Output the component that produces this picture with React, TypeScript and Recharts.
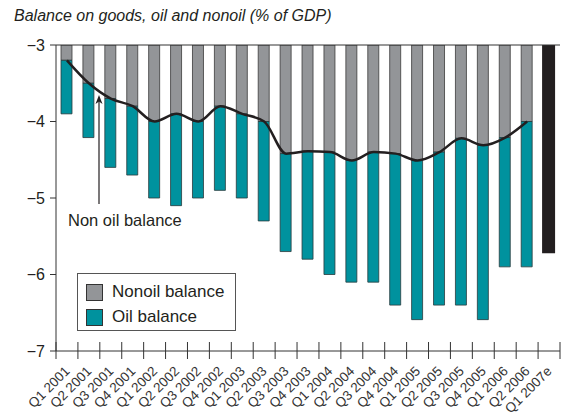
import React from 'react';
import { Bar, BarChart, Line, ReferenceLine, XAxis, YAxis } from 'recharts';

const quarters = [
  'Q1 2001', 'Q2 2001', 'Q3 2001', 'Q4 2001',
  'Q1 2002', 'Q2 2002', 'Q3 2002', 'Q4 2002',
  'Q1 2003', 'Q2 2003', 'Q3 2003', 'Q4 2003',
  'Q1 2004', 'Q2 2004', 'Q3 2004', 'Q4 2004',
  'Q1 2005', 'Q2 2005', 'Q3 2005', 'Q4 2005',
  'Q1 2006', 'Q2 2006', 'Q1 2007e',
];

// nonoil balance (where the gray part ends / the black line)
const nonoil = [
  -3.2, -3.5, -3.7, -3.8,
  -4.0, -3.9, -4.0, -3.8,
  -3.9, -4.0, -4.42, -4.39,
  -4.4, -4.51, -4.4, -4.42,
  -4.51, -4.4, -4.22, -4.31,
  -4.21, -4.0, null,
];

// goods balance (bottom of the teal part)
const goods = [
  -3.9, -4.21, -4.6, -4.7,
  -5.0, -5.1, -5.0, -4.9,
  -5.0, -5.3, -5.7, -5.8,
  -6.0, -6.1, -6.1, -6.4,
  -6.59, -6.4, -6.4, -6.59,
  -5.9, -5.9, null,
];

const estimate = [
  null, null, null, null, null, null, null, null, null, null, null, null,
  null, null, null, null, null, null, null, null, null, null, -5.71,
];

const yTicks = [-3, -4, -5, -6, -7];
const BASE = -3;

const data = quarters.map((q, i) => ({
  q,
  line: nonoil[i],
  nonoilBar: nonoil[i] == null ? null : [nonoil[i], BASE],
  oilBar: nonoil[i] == null ? null : [goods[i], nonoil[i]],
  estBar: estimate[i] == null ? null : [estimate[i], BASE],
}));

const W = 561;
const H = 417;
const PLOT_LEFT = 56;
const PLOT_RIGHT = 560;
const BAND = (PLOT_RIGHT - PLOT_LEFT) / quarters.length;

const FONT = '"Liberation Sans", Arial, Helvetica, sans-serif';
const INK = '#231f20';
const GRAY = '#939598';
const TEAL = '#00929e';

function QuarterTick(props: any) {
  const { x, y, payload, index } = props;
  const last = index === quarters.length - 1;
  const ax = x + 3.5;
  const ay = y + 21;
  return (
    <g>
      <line x1={x - BAND / 2} x2={x - BAND / 2} y1={y - 9} y2={y + 8} stroke="#333" strokeWidth={1} />
      {last && (
        <line x1={x + BAND / 2} x2={x + BAND / 2} y1={y - 9} y2={y + 8} stroke="#333" strokeWidth={1} />
      )}
      <text
        x={ax}
        y={ay}
        textAnchor="end"
        fontSize={13.5}
        fontFamily={FONT}
        fill="#333"
        transform={`rotate(-45, ${ax}, ${ay})`}
      >
        {payload.value}
      </text>
    </g>
  );
}

export default function App() {
  return (
    <div style={{ position: 'absolute', left: 0, top: 0, width: W, height: H, background: '#fff', overflow: 'hidden' }}>
      <div
        style={{
          position: 'absolute',
          left: 14,
          top: 7,
          fontFamily: FONT,
          fontStyle: 'italic',
          fontSize: 16,
          color: INK,
        }}
      >
        Balance on goods, oil and nonoil (% of GDP)
      </div>

      <BarChart
        width={W}
        height={H}
        data={data}
        margin={{ top: 45, right: W - PLOT_RIGHT, bottom: 0, left: 0 }}
        barGap={-11}
      >
        <XAxis
          dataKey="q"
          interval={0}
          tickLine={false}
          tickSize={0}
          tickMargin={0}
          axisLine={{ stroke: '#333', strokeWidth: 1 }}
          tick={<QuarterTick />}
          height={H - 351}
        />
        <YAxis
          domain={[-7, -3]}
          ticks={yTicks}
          allowDataOverflow
          width={PLOT_LEFT}
          tickSize={6}
          tickMargin={5}
          axisLine={{ stroke: '#333', strokeWidth: 1 }}
          tickLine={{ stroke: '#333', strokeWidth: 1 }}
          tick={{ fontSize: 16, fontFamily: FONT, fill: INK }}
          tickFormatter={(v: number) => '\u2212' + Math.abs(v)}
        />
        <ReferenceLine y={BASE} stroke="#333" strokeWidth={1} />
        <Bar dataKey="nonoilBar" fill={GRAY} stroke="#3a3a3a" strokeWidth={0.8} barSize={11} isAnimationActive={false} />
        <Bar dataKey="oilBar" fill={TEAL} stroke="#2a3a3c" strokeWidth={0.8} barSize={11} isAnimationActive={false} />
        <Bar dataKey="estBar" fill={INK} stroke={INK} strokeWidth={2} barSize={11} isAnimationActive={false} />
        <Line
          dataKey="line"
          type="monotone"
          stroke={INK}
          strokeWidth={2.5}
          dot={false}
          activeDot={false}
          connectNulls={false}
          isAnimationActive={false}
        />
      </BarChart>

      {/* annotation */}
      <svg style={{ position: 'absolute', left: 0, top: 0, pointerEvents: 'none' }} width={W} height={H}>
        <line x1={99} x2={99} y1={100} y2={204} stroke={INK} strokeWidth={1.2} />
        <path d="M99,95 L95.5,104 L99,101.5 L102.5,104 Z" fill={INK} />
      </svg>
      <div
        style={{
          position: 'absolute',
          left: 68,
          top: 211,
          fontFamily: FONT,
          fontSize: 16.5,
          color: INK,
          whiteSpace: 'nowrap',
        }}
      >
        Non oil balance
      </div>

      {/* legend */}
      <div
        style={{
          position: 'absolute',
          left: 77,
          top: 273,
          width: 157,
          height: 56,
          border: '1px solid #555',
          background: '#fff',
          fontFamily: FONT,
          fontSize: 17,
          color: INK,
        }}
      >
        {[
          { label: 'Nonoil balance', color: GRAY },
          { label: 'Oil balance', color: TEAL },
        ].map((it, i) => (
          <div key={it.label} style={{ position: 'absolute', left: 8, top: 8 + i * 25, display: 'flex', alignItems: 'center' }}>
            <span
              style={{
                display: 'inline-block',
                width: 15,
                height: 15,
                background: it.color,
                border: '1px solid #333',
                marginRight: 9,
              }}
            />
            <span style={{ whiteSpace: 'nowrap' }}>{it.label}</span>
          </div>
        ))}
      </div>
    </div>
  );
}
